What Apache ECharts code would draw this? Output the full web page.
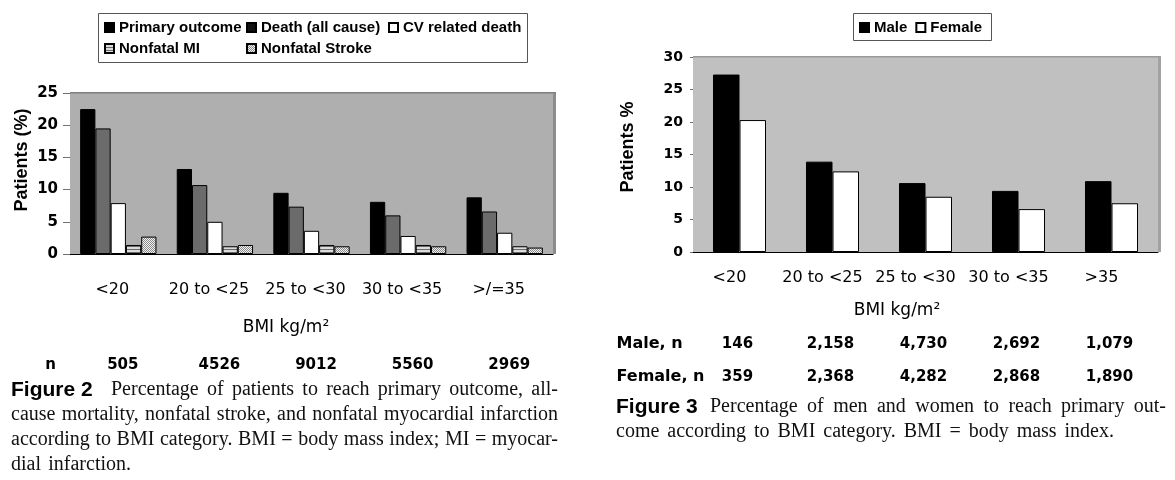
<!DOCTYPE html>
<html><head><meta charset="utf-8">
<script src="https://cdn.jsdelivr.net/npm/echarts@6/dist/echarts.min.js"></script>
<style>html,body{margin:0;padding:0;background:#fff}#c{width:1175px;height:480px}</style>
</head><body><div id="c"></div>
<script>
// ---------- DATA ----------
const bmiCats2 = ['<20', '20 to <25', '25 to <30', '30 to <35', '>/=35'];
const primaryOutcome = [22.5, 13.2, 9.5, 8.1, 8.8];
const deathAllCause = [19.5, 10.7, 7.35, 6.0, 6.6];
const cvDeath = [7.9, 5.0, 3.6, 2.8, 3.3];
const nonfatalMI = [1.4, 1.2, 1.4, 1.4, 1.2];
const nonfatalStroke = [2.7, 1.4, 1.2, 1.2, 1.0];
const n2 = ['505', '4526', '9012', '5560', '2969'];

const bmiCats3 = ['<20', '20 to <25', '25 to <30', '30 to <35', '>35'];
const male = [27.3, 13.9, 10.6, 9.4, 10.9];
const female = [20.3, 12.4, 8.5, 6.6, 7.5];
const maleN = ['146', '2,158', '4,730', '2,692', '1,079'];
const femaleN = ['359', '2,368', '4,282', '2,868', '1,890'];

const cap2 = [
  'Percentage of patients to reach primary outcome, all-',
  'cause mortality, nonfatal stroke, and nonfatal myocardial infarction',
  'according to BMI category. BMI = body mass index; MI = myocar-',
  'dial infarction.'
];
const cap3 = [
  'Percentage of men and women to reach primary out-',
  'come according to BMI category. BMI = body mass index.'
];

// ---------- LAYOUT / STYLE ----------
const G2 = {left: 70, top: 93, width: 483, height: 161};
const G3 = {left: 693, top: 57, width: 465, height: 195};
const SANS = "'DejaVu Sans', sans-serif";
const ARIAL = "'Liberation Sans', Arial, sans-serif";
const SERIF = "'Liberation Serif', 'Times New Roman', serif";

function makePattern(w, h, draw) {
  const c = document.createElement('canvas');
  c.width = w; c.height = h;
  draw(c.getContext('2d'));
  return {image: c, repeat: 'repeat'};
}
const miPattern = makePattern(4, 3, g => {
  g.fillStyle = '#dcdcdc'; g.fillRect(0, 0, 4, 3);
  g.fillStyle = '#6a6a6a'; g.fillRect(0, 0, 4, 1);
});
const strokePattern = makePattern(2, 2, g => {
  g.fillStyle = '#f2f2f2'; g.fillRect(0, 0, 2, 2);
  g.fillStyle = '#8a8a8a'; g.fillRect(0, 0, 1, 1); g.fillRect(1, 1, 1, 1);
});

const border = {borderColor: '#000', borderWidth: 1};
const legText = {fontFamily: ARIAL, fontWeight: 'bold', fontSize: 15, color: '#000'};
function leg(left, top, data, extra) {
  return Object.assign({left, top, data, padding: 0, itemWidth: 9, itemHeight: 9,
    icon: 'rect', selectedMode: false, textStyle: legText}, extra || {});
}
function xAx(grid, cats, margin, shift) {
  return {type: 'category', gridIndex: grid, data: cats,
    axisTick: {show: false},
    axisLine: {lineStyle: {color: '#000', width: 1}},
    axisLabel: {margin, interval: 0, color: '#000', fontFamily: SANS, fontSize: 16,
      formatter: v => '{s|' + v + '}',
      rich: {s: {fontFamily: SANS, fontSize: 16, color: '#000', padding: [0, shift, 0, 0]}}}};
}
function yAx(grid, max, tickLen, margin, fs) {
  return {type: 'value', gridIndex: grid, min: 0, max, interval: 5,
    splitLine: {show: false}, axisLine: {show: false},
    axisTick: {show: true, length: tickLen, lineStyle: {color: '#707070'}},
    axisLabel: {margin, color: '#000', fontFamily: SANS, fontWeight: 'bold', fontSize: fs}};
}

const chart = echarts.init(document.getElementById('c'), null, {renderer: 'canvas'});
chart.setOption({
  animation: false,
  backgroundColor: '#fff',
  grid: [
    Object.assign({show: true, backgroundColor: '#afafaf', borderWidth: 0}, G2),
    Object.assign({show: true, backgroundColor: '#c0c0c0', borderWidth: 0}, G3)
  ],
  xAxis: [xAx(0, bmiCats2, 28, 12), xAx(1, bmiCats3, 18, 20)],
  yAxis: [yAx(0, 25, 7, 12, 15), yAx(1, 30, 3, 10, 14)],
  legend: [
    leg(104, 20, ['Primary outcome']),
    leg(246, 20, [{name: 'Death (all cause)', itemStyle: {color: '#111'}}]),
    leg(388, 20, ['CV related death']),
    leg(104, 41, ['Nonfatal MI']),
    leg(246, 41, ['Nonfatal Stroke']),
    leg(859, 20, ['Male', 'Female'], {itemGap: 8})
  ],
  series: [
    {type: 'bar', name: 'Primary outcome', xAxisIndex: 0, yAxisIndex: 0, data: primaryOutcome,
      barGap: '0%', barCategoryGap: '21%', itemStyle: Object.assign({color: '#000'}, border)},
    {type: 'bar', name: 'Death (all cause)', xAxisIndex: 0, yAxisIndex: 0, data: deathAllCause,
      barGap: '0%', barCategoryGap: '21%', itemStyle: Object.assign({color: '#6b6b6b'}, border)},
    {type: 'bar', name: 'CV related death', xAxisIndex: 0, yAxisIndex: 0, data: cvDeath,
      barGap: '0%', barCategoryGap: '21%', itemStyle: Object.assign({color: '#fff'}, border)},
    {type: 'bar', name: 'Nonfatal MI', xAxisIndex: 0, yAxisIndex: 0, data: nonfatalMI,
      barGap: '0%', barCategoryGap: '21%', itemStyle: Object.assign({color: miPattern}, border)},
    {type: 'bar', name: 'Nonfatal Stroke', xAxisIndex: 0, yAxisIndex: 0, data: nonfatalStroke,
      barGap: '0%', barCategoryGap: '21%', itemStyle: Object.assign({color: strokePattern}, border)},
    {type: 'bar', name: 'Male', xAxisIndex: 1, yAxisIndex: 1, data: male,
      barGap: '0%', barCategoryGap: '43%', itemStyle: Object.assign({color: '#000'}, border)},
    {type: 'bar', name: 'Female', xAxisIndex: 1, yAxisIndex: 1, data: female,
      barGap: '0%', barCategoryGap: '43%', itemStyle: Object.assign({color: '#fff'}, border)}
  ]
});

// ---------- annotations ----------
const mctx = document.createElement('canvas').getContext('2d');
function txt(x, y, text, o) {
  o = o || {};
  return {type: 'text', x, y, rotation: o.rotation || 0, silent: true,
    style: {text, fill: o.color || '#000', fontFamily: o.family || SANS,
      fontSize: o.size || 15, fontWeight: o.weight || 'normal',
      align: o.align || 'center', verticalAlign: 'middle'}};
}
function justify(text, x0, x1, y, size) {
  const words = text.split(' ');
  let fs = size, widths, total, gap;
  for (;;) {
    mctx.font = fs + 'px ' + SERIF;
    widths = words.map(w => mctx.measureText(w).width);
    total = widths.reduce((a, b) => a + b, 0);
    gap = words.length > 1 ? (x1 - x0 - total) / (words.length - 1) : 0;
    if (gap >= 3 || fs <= 12) break;
    fs -= 0.5;
  }
  const out = [];
  let x = x0;
  words.forEach((w, i) => {
    out.push(txt(x, y, w, {family: SERIF, size: fs, align: 'left', color: '#111'}));
    x += widths[i] + gap;
  });
  return out;
}

const g = [];
// legend boxes
g.push({type: 'rect', silent: true, shape: {x: 98.5, y: 13.5, width: 429, height: 49},
  style: {fill: 'none', stroke: '#555', lineWidth: 1}});
g.push({type: 'rect', silent: true, shape: {x: 853.5, y: 13.5, width: 138, height: 27},
  style: {fill: 'none', stroke: '#555', lineWidth: 1}});
// plot wall edges
g.push({type: 'rect', silent: true, shape: {x: G2.left, y: G2.top - 1, width: G2.width + 3, height: 1.5}, style: {fill: '#7e7e7e'}});
g.push({type: 'rect', silent: true, shape: {x: G2.left + G2.width, y: G2.top, width: 3, height: G2.height}, style: {fill: '#8c8c8c'}});
g.push({type: 'rect', silent: true, shape: {x: G3.left, y: G3.top - 1, width: G3.width + 3, height: 1.5}, style: {fill: '#9a9a9a'}});
g.push({type: 'rect', silent: true, shape: {x: G3.left + G3.width, y: G3.top, width: 3, height: G3.height}, style: {fill: '#a2a2a2'}});
// axis titles
g.push(txt(22.5, 160, 'Patients (%)', {family: ARIAL, weight: 'bold', size: 18, rotation: Math.PI / 2}));
g.push(txt(628.5, 147, 'Patients %', {family: ARIAL, weight: 'bold', size: 18, rotation: Math.PI / 2}));
g.push(txt(286, 328, 'BMI kg/m²', {size: 17}));
g.push(txt(897, 311, 'BMI kg/m²', {size: 17}));
// n rows
g.push(txt(50.5, 365, 'n', {weight: 'bold', size: 15}));
n2.forEach((v, i) => {
  const x = chart.convertToPixel({xAxisIndex: 0}, bmiCats2[i]) + 4.5;
  g.push(txt(x, 365, v, {weight: 'bold', size: 15}));
});
g.push(txt(616.5, 344, 'Male, n', {weight: 'bold', size: 16, align: 'left'}));
g.push(txt(616.5, 377, 'Female, n', {weight: 'bold', size: 16, align: 'left'}));
maleN.forEach((v, i) => {
  const x = chart.convertToPixel({xAxisIndex: 1}, bmiCats3[i]) - 2;
  g.push(txt(x, 344, v, {weight: 'bold', size: 15}));
});
femaleN.forEach((v, i) => {
  const x = chart.convertToPixel({xAxisIndex: 1}, bmiCats3[i]) - 2;
  g.push(txt(x, 377, v, {weight: 'bold', size: 15}));
});
// captions
const figFont = "'Liberation Sans Narrow', 'Liberation Sans', sans-serif";
g.push(txt(11, 390, 'Figure 2', {family: figFont, weight: 'bold', size: 21, align: 'left'}));
g.push(...justify(cap2[0], 111, 558, 390, 20));
g.push(...justify(cap2[1], 11, 558, 415, 20));
g.push(...justify(cap2[2], 11, 558, 440, 20));
g.push(...justify(cap2[3], 11, 131, 465, 20));
g.push(txt(616, 407, 'Figure 3', {family: figFont, weight: 'bold', size: 21, align: 'left'}));
g.push(...justify(cap3[0], 710, 1166, 407, 20));
g.push(...justify(cap3[1], 616, 1114, 432, 20));

chart.setOption({graphic: g});
</script>
</body></html>
